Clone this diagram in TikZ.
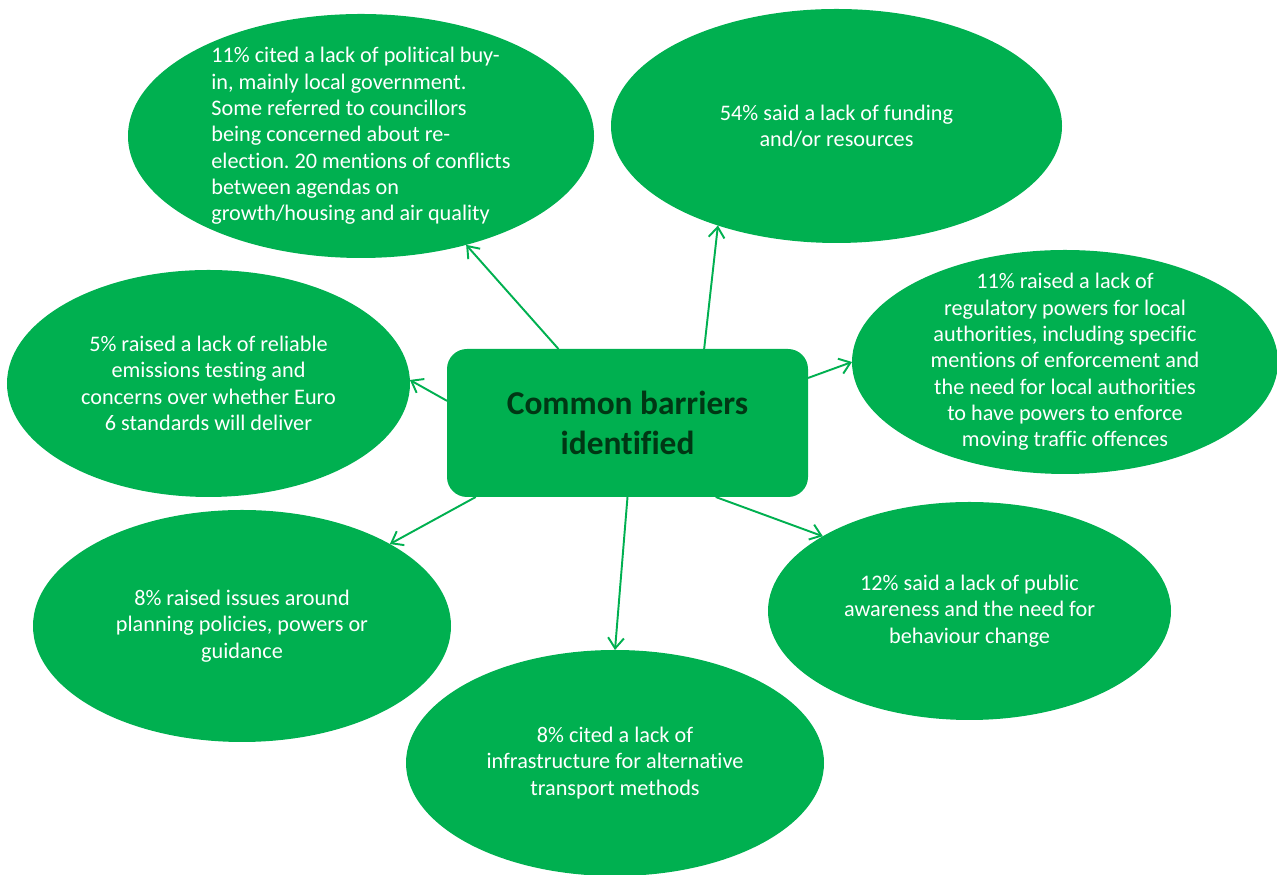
\documentclass[tikz,border=0pt]{standalone}
\usepackage{fontspec}
\setmainfont{Carlito}[Ligatures=NoCommon]
\usepackage{xcolor}
\usepackage{tikz}
\usetikzlibrary{shapes.geometric,arrows.meta,positioning}

\definecolor{leafgreen}{RGB}{0,176,80}
\definecolor{darkleaf}{RGB}{0,55,20}
\frenchspacing

\begin{document}
\begin{tikzpicture}[
    hub/.style={rectangle, fill=leafgreen, draw=none, minimum width=7.22cm, minimum height=2.96cm, rounded corners=0.4cm, outer sep=0pt},
    bubble/.style={ellipse, fill=leafgreen, draw=none, inner sep=0pt, outer sep=0pt},
    bubbletext/.style={text=white, font=\fontsize{12.65}{15}\selectfont, align=center},
    hubtext/.style={text=darkleaf, font=\fontsize{19}{22.5}\selectfont\bfseries, align=center},
    spoke/.style={-{Straight Barb[length=6pt, width=9pt]}, leafgreen, line width=1.1pt}
]
\useasboundingbox (0,0) rectangle (25.54,17.5);

% Center box
\node[hub] (hub) at (12.55, 9.04) {};
\node[hubtext] (hubLabel) at (hub.center) {Common barriers\\identified};

% Barrier bubbles
\node[bubble, minimum width=9.32cm, minimum height=4.88cm] (political) at (7.22, 14.78) {};
\node[bubbletext, align=left] (politicalText) at (political.center) {11\% cited a lack of political buy-\\in, mainly local government.\\Some referred to councillors\\being concerned about re-\\election. 20 mentions of conflicts\\between agendas on\\growth/housing and air quality};

\node[bubble, minimum width=9.02cm, minimum height=4.68cm] (funding) at (16.73, 14.98) {};
\node[bubbletext] (fundingText) at (funding.center) {54\% said a lack of funding\\and/or resources};

\node[bubble, minimum width=8.52cm, minimum height=4.48cm] (powers) at (21.30, 10.26) {};
\node[bubbletext] (powersText) at (powers.center) {11\% raised a lack of\\regulatory powers for local\\authorities, including specific\\mentions of enforcement and\\the need for local authorities\\to have powers to enforce\\moving traffic offences};

\node[bubble, minimum width=8.06cm, minimum height=4.54cm] (emissions) at (4.17, 9.83) {};
\node[bubbletext] (emissionsText) at (emissions.center) {5\% raised a lack of reliable\\emissions testing and\\concerns over whether Euro\\6 standards will deliver};

\node[bubble, minimum width=8.36cm, minimum height=4.64cm] (planning) at (4.84, 4.98) {};
\node[bubbletext] (planningText) at (planning.center) {8\% raised issues around\\planning policies, powers or\\guidance};

\node[bubble, minimum width=8.36cm, minimum height=4.52cm] (transport) at (12.30, 2.24) {};
\node[bubbletext] (transportText) at (transport.center) {8\% cited a lack of\\infrastructure for alternative\\transport methods};

\node[bubble, minimum width=8.06cm, minimum height=4.36cm] (awareness) at (19.39, 5.28) {};
\node[bubbletext] (awarenessText) at (awareness.center) {12\% said a lack of public\\awareness and the need for\\behaviour change};

% Spokes
\draw[spoke] (hub.133.2) -- (political.314.5);
\draw[spoke] (hub.44.8) -- (funding.220.5);
\draw[spoke] (hub.14.3) -- (powers.180);
\draw[spoke] (hub.173) -- (emissions.1);
\draw[spoke] (hub.206.3) -- (planning.29.6);
\draw[spoke] (hub.270) -- (transport.90);
\draw[spoke] (hub.320.2) -- (awareness.153.8);

\end{tikzpicture}
\end{document}
